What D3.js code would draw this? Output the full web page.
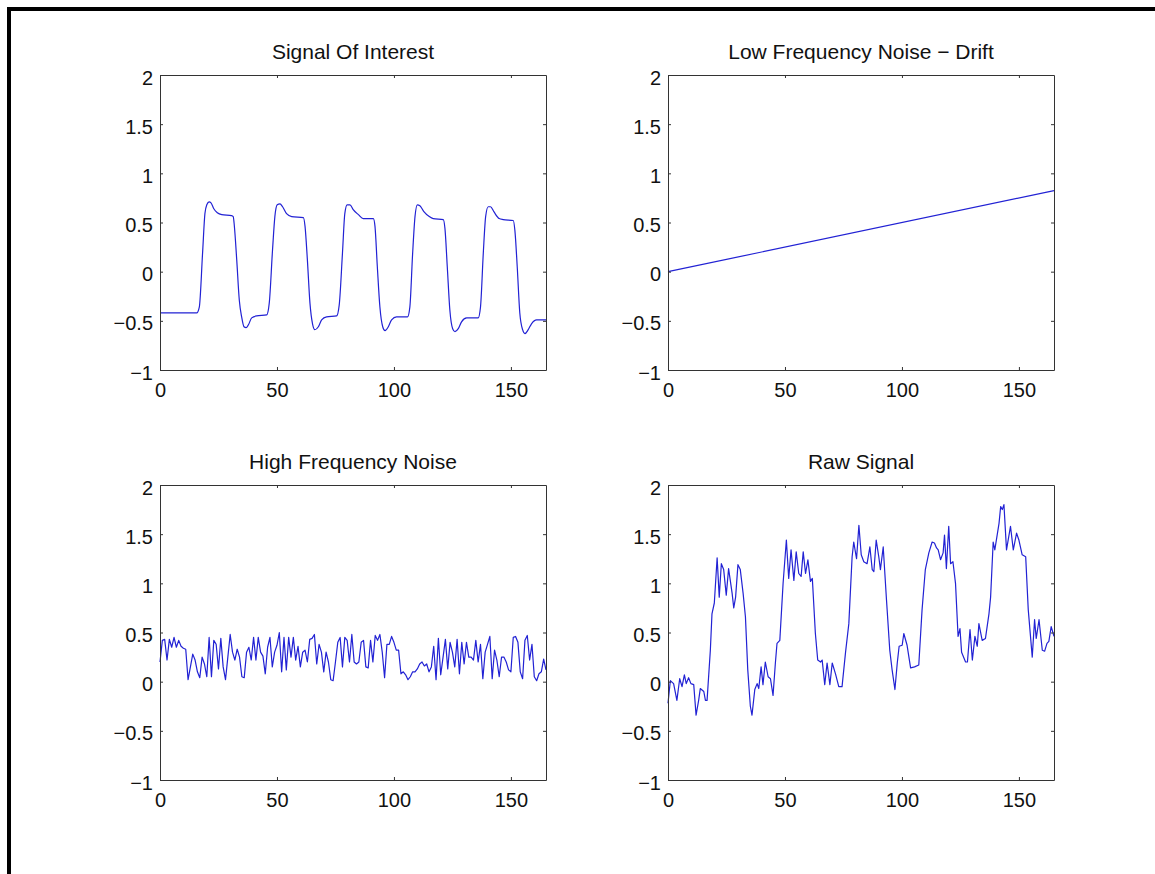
<!DOCTYPE html>
<html>
<head>
<meta charset="utf-8">
<script src="https://cdn.jsdelivr.net/npm/d3@7"></script>
<style>
  body { margin: 0; background: #fff; }
  svg { display: block; font-family: "Liberation Sans", Arial, Helvetica, sans-serif; }
</style>
</head>
<body>
<div id="chart"></div>
<script>
// axis ticks shared by all four panels
const xTicks = [0, 50, 100, 150];
const yTicks = [-1, -0.5, 0, 0.5, 1, 1.5, 2];
const xDomain = [0, 165];
const yDomain = [-1, 2];

const titles = ["Signal Of Interest", "Low Frequency Noise \u2212 Drift", "High Frequency Noise", "Raw Signal"];

// signal of interest, [sample, value]
const signal = [
  [0,-0.42],[15.7,-0.42],[16.8,-0.36],[18.2,0.19],[19.2,0.59],[20,0.68],[21,0.71],[21.8,0.70],[23,0.64],
  [24.5,0.60],[26.4,0.58],[30.6,0.57],[31.3,0.56],[31.8,0.46],[32.8,0.12],[33.9,-0.29],[34.9,-0.46],
  [35.9,-0.56],[36.8,-0.57],[37.8,-0.54],[39.2,-0.47],[41.3,-0.45],[45.6,-0.44],[46.7,-0.32],[48.1,0.22],
  [49.1,0.56],[50.1,0.68],[51.3,0.69],[52.4,0.66],[54.1,0.59],[56.3,0.56],[61.3,0.55],[62,0.46],[63,0.12],
  [64.1,-0.32],[65.2,-0.53],[66.2,-0.59],[67.7,-0.56],[69.1,-0.49],[71.2,-0.46],[75.5,-0.45],[76.6,-0.34],
  [78,0.19],[79,0.59],[80,0.68],[81.2,0.68],[82.6,0.63],[84.8,0.58],[86.9,0.54],[91.2,0.54],[91.9,0.46],
  [92.9,0.05],[94,-0.36],[95.2,-0.56],[96.2,-0.60],[97.6,-0.56],[99,-0.49],[101.1,-0.46],[105.8,-0.46],
  [106.8,-0.36],[108,0.19],[109,0.56],[110,0.68],[111.1,0.67],[112.8,0.61],[115.1,0.56],[116.8,0.54],
  [121.1,0.53],[121.8,0.44],[122.8,0.05],[123.9,-0.39],[125.1,-0.58],[126.1,-0.61],[127.5,-0.58],
  [128.9,-0.51],[131.1,-0.47],[136,-0.47],[137,-0.36],[138.2,0.19],[139.2,0.56],[140.3,0.66],[141.3,0.66],
  [142.7,0.61],[145,0.54],[146.7,0.53],[151,0.52],[151.7,0.42],[152.7,0.05],[153.8,-0.42],[155,-0.59],
  [156,-0.63],[157.4,-0.59],[158.8,-0.53],[161,-0.49],[165,-0.49]
];

// linear drift, end points
const drift = [[0, 0], [165, 0.825]];

// high frequency noise, one value per sample 0..165
const noise = [
  0.20,0.42,0.43,0.22,0.43,0.35,0.45,0.35,0.42,0.36,0.34,0.33,0.02,0.15,0.28,0.22,0.10,0.04,0.25,0.18,
  0.05,0.45,0.05,0.42,0.38,0.13,0.44,0.15,0.02,0.25,0.48,0.30,0.22,0.33,0.25,0.05,0.04,0.30,0.35,0.22,
  0.45,0.22,0.45,0.30,0.26,0.08,0.35,0.45,0.15,0.30,0.37,0.50,0.10,0.45,0.12,0.45,0.25,0.45,0.22,0.36,
  0.15,0.30,0.32,0.20,0.43,0.44,0.48,0.18,0.38,0.30,0.10,0.30,0.20,0.02,0.01,0.20,0.40,0.45,0.15,0.45,
  0.42,0.20,0.48,0.20,0.18,0.20,0.40,0.42,0.15,0.14,0.42,0.20,0.47,0.42,0.48,0.30,0.04,0.38,0.38,0.46,
  0.40,0.32,0.32,0.08,0.10,0.07,0.02,0.05,0.10,0.10,0.13,0.18,0.20,0.16,0.18,0.10,0.15,0.36,0.02,0.44,
  0.07,0.25,0.43,0.13,0.40,0.30,0.15,0.43,0.08,0.40,0.18,0.40,0.25,0.25,0.22,0.42,0.20,0.38,0.03,0.30,
  0.38,0.46,0.03,0.32,0.22,0.05,0.25,0.25,0.20,0.12,0.10,0.45,0.46,0.40,0.10,0.03,0.42,0.47,0.22,0.38,
  0.05,0.01,0.08,0.10,0.23,0.12
];

// raw signal, [sample, value]
const raw = [
  [0,-0.22],[1,0.01],[2.4,-0.02],[3.8,-0.19],[5,0.03],[6,-0.05],[7,0.07],[7.8,-0.02],[8.8,0.04],[9.8,-0.02],
  [11,-0.03],[12,-0.34],[13.1,-0.19],[13.8,-0.07],[15.3,-0.1],[16,-0.19],[16.7,-0.19],[18.1,0.32],[18.8,0.69],
  [19.8,0.8],[21,1.26],[21.9,0.86],[22.8,1.2],[23.8,1.14],[24.9,0.88],[25.9,1.15],[27.4,0.9],[28.1,0.75],
  [28.9,0.86],[29.9,1.19],[30.9,1.14],[32.1,0.9],[33.1,0.66],[34.1,0.12],[35.2,-0.25],[35.9,-0.34],
  [37.1,-0.08],[38.1,-0.02],[38.8,-0.07],[39.8,0.15],[40.6,-0.03],[41.6,0.2],[42.8,0.05],[43.8,0.03],
  [44.9,-0.14],[45.9,0.19],[46.6,0.39],[47.8,0.42],[49.2,1.0],[50.6,1.44],[51.6,1.05],[52.6,1.34],
  [53.8,1.03],[54.8,1.32],[55.9,1.1],[56.9,1.07],[57.8,1.32],[58.8,1.1],[59.8,1.24],[60.9,1.02],[61.7,1.05],
  [63,0.49],[64,0.22],[65.2,0.2],[65.9,0.22],[67,-0.03],[68,0.19],[69.2,-0.03],[70.2,0.19],[71.6,0.08],
  [73,-0.05],[74.4,-0.05],[75.9,0.3],[77.3,0.59],[78.7,1.27],[79.4,1.42],[80.6,1.25],[81.6,1.59],[82.6,1.29],
  [83.7,1.22],[85.1,1.2],[86.3,1.37],[87.3,1.14],[88,1.12],[89,1.44],[90.1,1.27],[90.8,1.14],[92,1.37],
  [93.4,0.83],[94.8,0.32],[95.8,0.12],[97,-0.08],[98,0.19],[98.8,0.36],[100.1,0.37],[100.8,0.49],[102.2,0.37],
  [103.7,0.14],[105.4,0.15],[107.2,0.17],[108.6,0.73],[110,1.14],[111.5,1.31],[112.9,1.42],[113.9,1.41],
  [114.8,1.36],[115.5,1.34],[116.5,1.24],[117.6,1.31],[118.2,1.49],[119,1.15],[120,1.58],[120.8,1.2],
  [121.8,1.22],[122.9,1.0],[124,0.46],[124.8,0.54],[125.5,0.3],[127.2,0.2],[128,0.2],[129.1,0.53],[130.1,0.22],
  [131.2,0.46],[132.2,0.36],[132.9,0.59],[134.3,0.42],[135.7,0.44],[137.2,0.69],[137.9,0.86],[139,1.42],
  [139.7,1.34],[141.5,1.61],[142.2,1.78],[142.9,1.75],[143.6,1.8],[144.7,1.34],[146.4,1.58],[147.6,1.34],
  [149,1.51],[150,1.44],[151.4,1.29],[152.9,1.27],[154,0.73],[155.7,0.25],[156.7,0.63],[157.4,0.44],
  [158.6,0.63],[160,0.32],[161,0.31],[162,0.39],[162.8,0.41],[163.8,0.56],[165,0.46]
];

const W = 1155, H = 874;
const panelW = 386, panelH = 295;
const lineColor = "#2222d4";

const panels = [
  { title: titles[0], data: signal, left: 160, top: 75, curve: d3.curveMonotoneX },
  { title: titles[1], data: drift, left: 668, top: 75, curve: d3.curveLinear },
  { title: titles[2], data: noise.map((v, i) => [i, v]), left: 160, top: 485, curve: d3.curveLinear },
  { title: titles[3], data: raw, left: 668, top: 485, curve: d3.curveLinear }
];

const svg = d3.select("#chart").append("svg")
  .attr("width", W)
  .attr("height", H);

svg.append("rect").attr("width", W).attr("height", H).attr("fill", "#fff");

// figure frame, only top and left edges are in view
svg.append("path")
  .attr("d", `M9,${H + 5}V9H${W + 5}`)
  .attr("fill", "none")
  .attr("stroke", "#000")
  .attr("stroke-width", 4);

const fmt = d => String(d).replace("-", "\u2212");

const x = d3.scaleLinear().domain(xDomain).range([0, panelW]);
const y = d3.scaleLinear().domain(yDomain).range([panelH, 0]);

panels.forEach(p => {
  const g = svg.append("g").attr("transform", `translate(${p.left},${p.top})`);

  const line = d3.line()
    .curve(p.curve)
    .x(d => x(d[0]))
    .y(d => y(d[1]));

  g.append("path")
    .datum(p.data)
    .attr("fill", "none")
    .attr("stroke", lineColor)
    .attr("stroke-width", 1.2)
    .attr("stroke-linejoin", "round")
    .attr("d", line);

  g.append("g")
    .attr("transform", `translate(0,${panelH})`)
    .call(d3.axisBottom(x).tickValues(xTicks).tickSizeInner(-3).tickSizeOuter(0).tickPadding(13).tickFormat(fmt));

  const left = g.append("g")
    .call(d3.axisLeft(y).tickValues(yTicks).tickSizeInner(-3).tickSizeOuter(0).tickPadding(7).tickFormat(fmt));

  g.append("g")
    .call(d3.axisTop(x).tickValues(xTicks).tickSizeInner(-3).tickSizeOuter(0).tickFormat(""));

  g.append("g")
    .attr("transform", `translate(${panelW},0)`)
    .call(d3.axisRight(y).tickValues(yTicks).tickSizeInner(-3).tickSizeOuter(0).tickFormat(""));

  left.selectAll("text").attr("dy", "0.45em");

  g.selectAll(".domain, .tick line").attr("stroke", "#333");
  g.selectAll(".tick text")
    .attr("fill", "#111")
    .style("font-size", "20px")
    .style("font-family", "'Liberation Sans', Arial, Helvetica, sans-serif");

  g.append("text")
    .attr("x", panelW / 2)
    .attr("y", -16)
    .attr("text-anchor", "middle")
    .attr("fill", "#111")
    .style("font-size", "21px")
    .text(p.title);
});
</script>
</body>
</html>
